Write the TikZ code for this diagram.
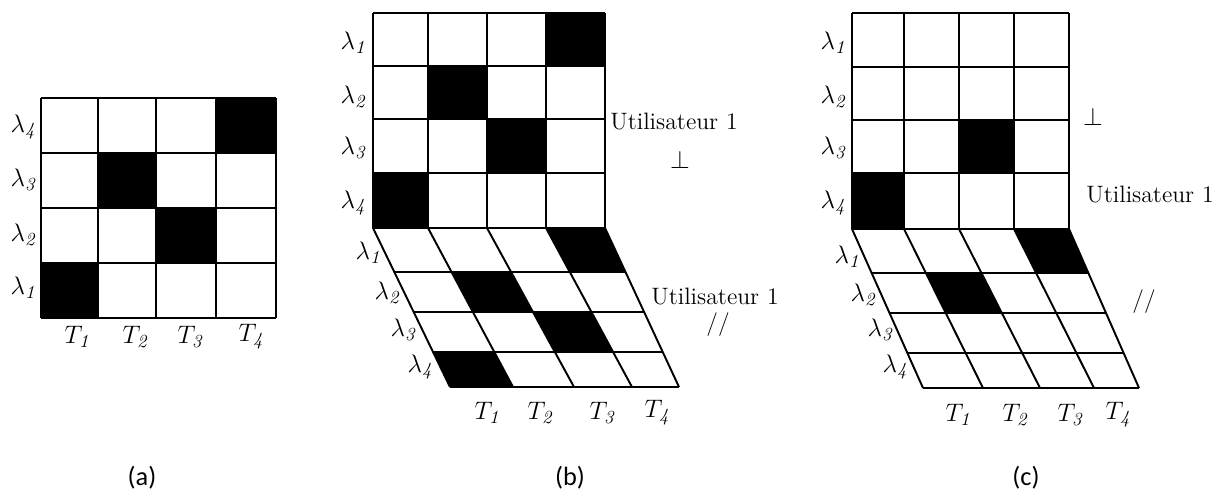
\documentclass[tikz,border=0pt]{standalone}
\usepackage{fontspec}
\newfontfamily\capfont{Carlito}
\usetikzlibrary{calc}
\begin{document}
\begin{tikzpicture}[x=0.02cm,y=-0.02cm,
  grid/.style={line width=1.1pt},
  lab/.style={font=\fontsize{15}{17}\selectfont, inner sep=0pt},
  txt/.style={font=\fontsize{13.5}{16}\selectfont, inner sep=0pt},
  captxt/.style={font=\capfont\fontsize{15}{17}\selectfont, inner sep=0pt}]
\useasboundingbox (0,0) rectangle (1223,492);

% ---------------- panel (a) ----------------
\fill (216,98) rectangle (276,153);
\fill (98,153) rectangle (156,208);
\fill (156,208) rectangle (216,263);
\fill (41,263) rectangle (98,318);
\foreach \x in {41,98,156,216,276} \draw[grid] (\x,98) -- (\x,318);
\foreach \y in {98,153,208,263,318} \draw[grid] (41,\y) -- (276,\y);
\node[lab] (aL4) at (23,127) {$\lambda_{\mathit{4}}$};
\node[lab] (aL3) at (23,180) {$\lambda_{\mathit{3}}$};
\node[lab] (aL2) at (23,235) {$\lambda_{\mathit{2}}$};
\node[lab] (aL1) at (23,288) {$\lambda_{\mathit{1}}$};
\node[lab] (aT1) at (77,337) {$T_{\mathit{1}}$};
\node[lab] (aT2) at (135,337) {$T_{\mathit{2}}$};
\node[lab] (aT3) at (190,337) {$T_{\mathit{3}}$};
\node[lab] (aT4) at (251,337) {$T_{\mathit{4}}$};
\node[captxt] (capa) at (142,478) {(a)};

% ---------------- panel (b) ----------------
\fill (546,13) rectangle (605,66);
\fill (428,66) rectangle (487,119);
\fill (487,119) rectangle (546,173);
\fill (373,173) rectangle (428,228);
\foreach \x in {373,428,487,546,605} \draw[grid] (\x,13) -- (\x,228);
\foreach \y in {13,66,119,173,228} \draw[grid] (373,\y) -- (605,\y);
\foreach \i/\xt/\xb in {0/373/450,1/428/513,2/487/574,3/546/632,4/605/679}{
  \coordinate (bt\i) at (\xt,228);
  \coordinate (bb\i) at (\xb,387);
  \foreach \j/\f in {0/0,1/0.278,2/0.53,3/0.78,4/1}
    \coordinate (bp\i\j) at ($(bt\i)!\f!(bb\i)$);
}
\fill (bp30) -- (bp40) -- (bp41) -- (bp31) -- cycle;
\fill (bp11) -- (bp21) -- (bp22) -- (bp12) -- cycle;
\fill (bp22) -- (bp32) -- (bp33) -- (bp23) -- cycle;
\fill (bp03) -- (bp13) -- (bp14) -- (bp04) -- cycle;
\foreach \i in {0,...,4} \draw[grid] (bt\i) -- (bb\i);
\foreach \j in {0,...,4} \draw[grid] (bp0\j) -- (bp4\j);
\node[lab] (bL1) at (353,43) {$\lambda_{\mathit{1}}$};
\node[lab] (bL2) at (353,97) {$\lambda_{\mathit{2}}$};
\node[lab] (bL3) at (353,148) {$\lambda_{\mathit{3}}$};
\node[lab] (bL4) at (353,203) {$\lambda_{\mathit{4}}$};
\node[lab] (bl1) at (368,253) {$\lambda_{\mathit{1}}$};
\node[lab] (bl2) at (387,293) {$\lambda_{\mathit{2}}$};
\node[lab] (bl3) at (403,330) {$\lambda_{\mathit{3}}$};
\node[lab] (bl4) at (420,367) {$\lambda_{\mathit{4}}$};
\node[lab] (bT1) at (487,413) {$T_{\mathit{1}}$};
\node[lab] (bT2) at (540,413) {$T_{\mathit{2}}$};
\node[lab] (bT3) at (602,413) {$T_{\mathit{3}}$};
\node[lab] (bT4) at (657,413) {$T_{\mathit{4}}$};
\node[txt] (bU1) at (674,122) {Utilisateur 1};
\node[lab] (bperp) at (680,160) {$\perp$};
\node[txt] (bU2) at (715,297) {Utilisateur 1};
\node[txt] (bpar) at (718,325) {//};
\node[captxt] (capb) at (570,478) {(b)};

% ---------------- panel (c) ----------------
\fill (959,120) rectangle (1014,173);
\fill (852,173) rectangle (904,229);
\foreach \x in {852,904,959,1014,1069} \draw[grid] (\x,13) -- (\x,229);
\foreach \y in {13,67,120,173,229} \draw[grid] (852,\y) -- (1069,\y);
\foreach \i/\xt/\xb in {0/852/923,1/904/983,2/959/1040,3/1014/1094,4/1069/1139}{
  \coordinate (ct\i) at (\xt,229);
  \coordinate (cb\i) at (\xb,388);
  \foreach \j/\f in {0/0,1/0.277,2/0.529,3/0.781,4/1}
    \coordinate (cp\i\j) at ($(ct\i)!\f!(cb\i)$);
}
\fill (cp30) -- (cp40) -- (cp41) -- (cp31) -- cycle;
\fill (cp11) -- (cp21) -- (cp22) -- (cp12) -- cycle;
\foreach \i in {0,...,4} \draw[grid] (ct\i) -- (cb\i);
\foreach \j in {0,...,4} \draw[grid] (cp0\j) -- (cp4\j);
\node[lab] (cL1) at (833,43) {$\lambda_{\mathit{1}}$};
\node[lab] (cL2) at (833,97) {$\lambda_{\mathit{2}}$};
\node[lab] (cL3) at (833,148) {$\lambda_{\mathit{3}}$};
\node[lab] (cL4) at (833,203) {$\lambda_{\mathit{4}}$};
\node[lab] (cl1) at (847,257) {$\lambda_{\mathit{1}}$};
\node[lab] (cl2) at (863,295) {$\lambda_{\mathit{2}}$};
\node[lab] (cl3) at (880,330) {$\lambda_{\mathit{3}}$};
\node[lab] (cl4) at (895,367) {$\lambda_{\mathit{4}}$};
\node[lab] (cT1) at (958,415) {$T_{\mathit{1}}$};
\node[lab] (cT2) at (1015,415) {$T_{\mathit{2}}$};
\node[lab] (cT3) at (1070,415) {$T_{\mathit{3}}$};
\node[lab] (cT4) at (1118,415) {$T_{\mathit{4}}$};
\node[lab] (cperp) at (1093,117) {$\perp$};
\node[txt] (cU) at (1150,195) {Utilisateur 1};
\node[txt] (cpar) at (1144,302) {//};
\node[captxt] (capc) at (1026,478) {(c)};
\end{tikzpicture}
\end{document}
